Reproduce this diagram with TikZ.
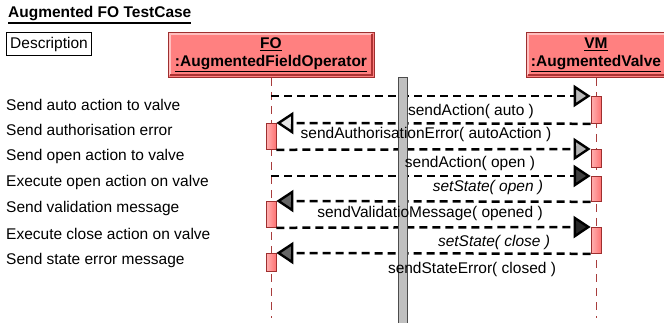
\documentclass[tikz,border=0pt]{standalone}
\usepackage{fontspec}
\setmainfont{Liberation Sans}
\newcommand{\ulbox}[1]{\vtop{\hbox{#1}\kern1.2pt\hrule height 1.3pt}}
\usetikzlibrary{positioning,arrows.meta}
\definecolor{boxred}{HTML}{FF8080}
\definecolor{edgered}{HTML}{9E2F2F}
\definecolor{lifered}{HTML}{A83C3C}
\definecolor{bargray}{HTML}{C0C0C0}

\begin{document}
\begin{tikzpicture}[x=1pt,y=-1pt,
    font=\fontsize{15.5}{18}\selectfont,
    obj/.style={draw=edgered,fill=boxred,line width=1pt,minimum height=45pt,inner sep=0pt,align=center,font=\fontsize{15.5}{18}\selectfont\bfseries},
    act/.style={draw=edgered,left color=red!30,right color=red!55,line width=.8pt,minimum width=10pt,inner sep=0pt,anchor=north},
    life/.style={lifered,line width=1pt,dash pattern=on 8pt off 6pt},
    msg/.style={line width=2.5pt,dash pattern=on 8pt off 5pt},
    msgtip/.style={-{Triangle[length=17pt,width=22pt,line width=2.4pt,fill=#1]}},
    lbl/.style={inner sep=0pt},
    desc/.style={anchor=west,inner sep=0pt}]
    \useasboundingbox (0,0) rectangle (664,323);
    \node[anchor=west,inner sep=0pt,font=\fontsize{15.5}{18}\selectfont\bfseries] (title) at (8,15) {\ulbox{Augmented FO TestCase}};
    \node[draw,line width=1pt,anchor=north west,minimum width=85pt,minimum height=23pt,inner sep=0pt] (descbox) at (6,32) {Description};
    \node[obj,minimum width=206pt,anchor=north] (fo) at (271,32) {\ulbox{FO}\\\ulbox{:AugmentedFieldOperator}};
    \node[obj,minimum width=140pt,anchor=north] (vm) at (596,32) {\ulbox{VM}\\\ulbox{:AugmentedValve}};
    \draw[red!25,line width=1.5pt] (170,75) -- (170,34) -- (372,34);
    \draw[red!60!black!80,line width=1.5pt] (170,75) -- (372,75) -- (372,34);
    \draw[red!25,line width=1.5pt] (528,75) -- (528,34) -- (668,34);
    \draw[red!60!black!80,line width=1.5pt] (528,75) -- (668,75);
    \coordinate (foend) at (271,318);
    \coordinate (vmend) at (596,318);
    \draw[life] (fo.south) -- (foend);
    \draw[life] (vm.south) -- (vmend);
    \node[desc] (d1) at (6,105) {Send auto action to valve};
    \node[desc] (d2) at (6,130) {Send authorisation error};
    \node[desc] (d3) at (6,156) {Send open action to valve};
    \node[desc] (d4) at (6,182) {Execute open action on valve};
    \node[desc] (d5) at (6,208) {Send validation message};
    \node[desc] (d6) at (6,234) {Execute close action on valve};
    \node[desc] (d7) at (6,260) {Send state error message};
    \node[act,minimum height=27pt] (v1) at (596,96) {};
    \node[act,minimum height=26pt] (f2) at (271,123) {};
    \node[act,minimum height=18pt] (v3) at (596,149) {};
    \node[act,minimum height=25pt] (v4) at (596,176) {};
    \node[act,minimum height=26pt] (f5) at (271,201) {};
    \node[act,minimum height=26pt] (v6) at (596,227) {};
    \node[act,minimum height=18pt] (f7) at (271,253) {};
    \coordinate (c1) at (271,96);
    \coordinate (c4) at (271,176);
    \draw[msg,msgtip=gray!55] (c1) -- (v1.north west);
    \draw[msg,msgtip=gray!20] (v1.south west) -- (f2.north east);
    \draw[msg,msgtip=gray!60] (f2.south east) -- (v3.north west);
    \draw[msg,msgtip=black!75] (c4) -- (v4.north west);
    \draw[msg,msgtip=black!60] (v4.south west) -- (f5.north east);
    \draw[msg,msgtip=black!85] (f5.south east) -- (v6.north west);
    \draw[msg,msgtip=black!60] (v6.south west) -- (f7.north east);
    \draw[black!70,line width=.8pt,fill=bargray] (398,77) rectangle (407,330);
    \node[lbl] (l1) at (471,111) {sendAction( auto )};
    \node[lbl] (l2) at (426,134) {sendAuthorisationError( autoAction )};
    \node[lbl] (l3) at (470,163) {sendAction( open )};
    \node[lbl,font=\fontsize{15.5}{18}\selectfont\itshape] (l4) at (488,187) {setState( open )};
    \node[lbl] (l5) at (430,213) {sendValidatioMessage( opened )};
    \node[lbl,font=\fontsize{15.5}{18}\selectfont\itshape] (l6) at (494,242) {setState( close )};
    \node[lbl] (l7) at (472,269) {sendStateError( closed )};
\end{tikzpicture}
\end{document}
